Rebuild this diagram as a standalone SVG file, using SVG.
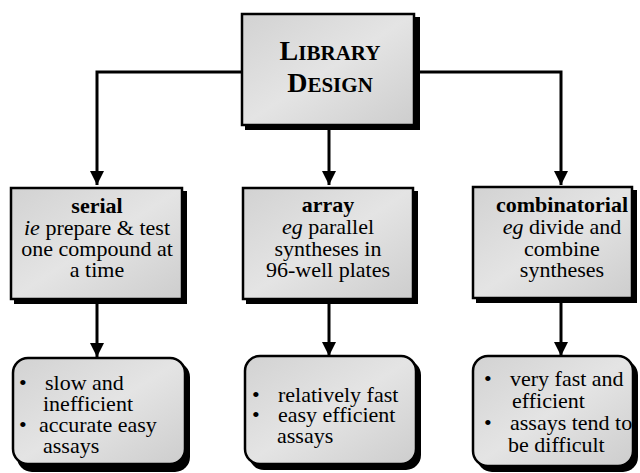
<svg xmlns="http://www.w3.org/2000/svg" width="640" height="473" viewBox="0 0 640 473">
<defs>
<linearGradient id="g" x1="0" y1="0" x2="1" y2="1">
<stop offset="0" stop-color="#d2d2d2"/>
<stop offset="0.5" stop-color="#e4e4e4"/>
<stop offset="1" stop-color="#cdcdcd"/>
</linearGradient>
<marker id="ah" viewBox="0 0 10 10" refX="10" refY="5" markerWidth="14" markerHeight="14" markerUnits="userSpaceOnUse" orient="auto">
<path d="M0,0 L10,5 L0,10 z" fill="#000"/>
</marker>
</defs>
<rect width="640" height="473" fill="#fff"/>
<g id="connectors" fill="none" stroke="#000" stroke-width="3">
<path d="M241,72 H97 V185" marker-end="url(#ah)"/>
<path d="M414,72 H561 V185" marker-end="url(#ah)"/>
<path d="M329,126 V185" marker-end="url(#ah)"/>
<path d="M97,302 V357" marker-end="url(#ah)"/>
<path d="M329,302 V356" marker-end="url(#ah)"/>
<path d="M561,302 V356" marker-end="url(#ah)"/>
</g>
<g id="library-design">
<rect x="245" y="17" width="175" height="113" fill="#000"/>
<rect x="242" y="14" width="172" height="111" fill="url(#g)" stroke="#000" stroke-width="2.5"/>
<text x="330" y="60" font-family="Liberation Serif" font-weight="bold" text-anchor="middle"><tspan font-size="28">L</tspan><tspan font-size="21">IBRARY</tspan></text>
<text x="330" y="92" font-family="Liberation Serif" font-weight="bold" text-anchor="middle"><tspan font-size="28">D</tspan><tspan font-size="21">ESIGN</tspan></text>
</g>
<g id="serial" font-family="Liberation Serif" font-size="22" text-anchor="middle">
<rect x="14" y="191" width="173" height="113" fill="#000"/>
<rect x="11" y="188" width="171" height="111" fill="url(#g)" stroke="#000" stroke-width="2.5"/>
<text x="97" y="213" font-family="Liberation Serif" font-size="22" font-weight="bold">serial</text>
<text x="97" y="235" font-family="Liberation Serif" font-size="22"><tspan font-style="italic">ie</tspan> prepare &amp; test</text>
<text x="97" y="256" font-family="Liberation Serif" font-size="22">one compound at</text>
<text x="97" y="277" font-family="Liberation Serif" font-size="22">a time</text>
</g>
<g id="array" text-anchor="middle">
<rect x="246" y="191" width="172" height="113" fill="#000"/>
<rect x="243" y="188" width="170" height="111" fill="url(#g)" stroke="#000" stroke-width="2.5"/>
<text x="328" y="212" font-family="Liberation Serif" font-size="22" font-weight="bold">array</text>
<text x="328" y="234" font-family="Liberation Serif" font-size="22"><tspan font-style="italic">eg</tspan> parallel</text>
<text x="328" y="256" font-family="Liberation Serif" font-size="22">syntheses in</text>
<text x="328" y="277" font-family="Liberation Serif" font-size="22">96-well plates</text>
</g>
<g id="combinatorial" text-anchor="middle">
<rect x="476" y="190" width="161" height="113" fill="#000"/>
<rect x="473" y="187" width="159" height="111" fill="url(#g)" stroke="#000" stroke-width="2.5"/>
<text x="562" y="212" font-family="Liberation Serif" font-size="22" font-weight="bold">combinatorial</text>
<text x="562" y="234" font-family="Liberation Serif" font-size="22"><tspan font-style="italic">eg</tspan> divide and</text>
<text x="562" y="256" font-family="Liberation Serif" font-size="22">combine</text>
<text x="562" y="277" font-family="Liberation Serif" font-size="22">syntheses</text>
</g>
<g id="serial-notes">
<rect x="17" y="362" width="173" height="110" rx="15" fill="#000"/>
<rect x="13" y="358" width="172" height="106" rx="15" fill="url(#g)" stroke="#000" stroke-width="2.5"/>
<text x="19" y="390" font-family="Liberation Serif" font-size="22">•</text>
<text x="45" y="390" font-family="Liberation Serif" font-size="22">slow and</text>
<text x="43" y="411" font-family="Liberation Serif" font-size="22">inefficient</text>
<text x="19" y="432" font-family="Liberation Serif" font-size="22">•</text>
<text x="39" y="432" font-family="Liberation Serif" font-size="22">accurate easy</text>
<text x="43" y="453" font-family="Liberation Serif" font-size="22">assays</text>
</g>
<g id="array-notes">
<rect x="249" y="360" width="172" height="110" rx="15" fill="#000"/>
<rect x="245" y="356" width="171" height="108" rx="15" fill="url(#g)" stroke="#000" stroke-width="2.5"/>
<text x="252" y="402" font-family="Liberation Serif" font-size="22">•</text>
<text x="278" y="402" font-family="Liberation Serif" font-size="22">relatively fast</text>
<text x="252" y="422" font-family="Liberation Serif" font-size="22">•</text>
<text x="278" y="422" font-family="Liberation Serif" font-size="22">easy efficient</text>
<text x="277" y="443" font-family="Liberation Serif" font-size="22">assays</text>
</g>
<g id="combinatorial-notes">
<rect x="477" y="360" width="161" height="112" rx="15" fill="#000"/>
<rect x="473" y="356" width="160" height="110" rx="15" fill="url(#g)" stroke="#000" stroke-width="2.5"/>
<text x="484" y="386" font-family="Liberation Serif" font-size="22">•</text>
<text x="510" y="386" font-family="Liberation Serif" font-size="22">very fast and</text>
<text x="512" y="408" font-family="Liberation Serif" font-size="22">efficient</text>
<text x="484" y="430" font-family="Liberation Serif" font-size="22">•</text>
<text x="510" y="430" font-family="Liberation Serif" font-size="22">assays tend to</text>
<text x="508" y="452" font-family="Liberation Serif" font-size="22">be difficult</text>
</g>
</svg>
